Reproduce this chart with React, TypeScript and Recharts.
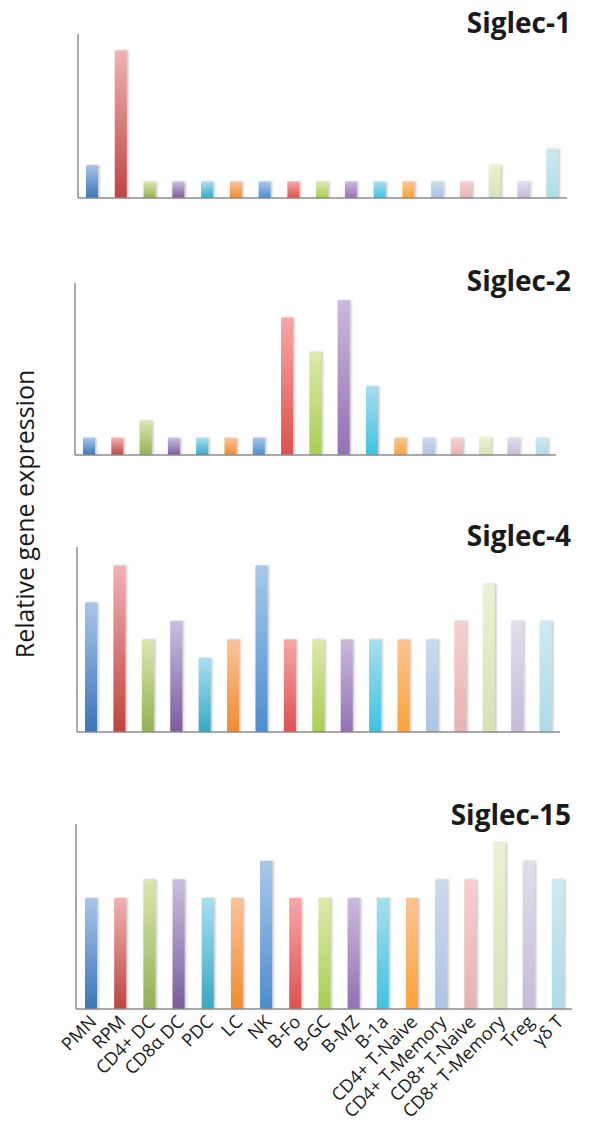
import React from "react";
import { BarChart, Bar, Cell, XAxis, YAxis } from "recharts";

const cells = [
  "PMN",
  "RPM",
  "CD4+ DC",
  "CD8α DC",
  "PDC",
  "LC",
  "NK",
  "B-Fo",
  "B-GC",
  "B-MZ",
  "B-1a",
  "CD4+ T-Naive",
  "CD4+ T-Memory",
  "CD8+ T-Naive",
  "CD8+ T-Memory",
  "Treg",
  "γδ T",
];

const siglec1 = [2, 9, 1, 1, 1, 1, 1, 1, 1, 1, 1, 1, 1, 1, 2, 1, 3];
const siglec2 = [1, 1, 2, 1, 1, 1, 1, 8, 6, 9, 4, 1, 1, 1, 1, 1, 1];
const siglec4 = [7, 9, 5, 6, 4, 5, 9, 5, 5, 5, 5, 5, 5, 6, 8, 6, 6];
const siglec15 = [6, 6, 7, 7, 6, 6, 8, 6, 6, 6, 6, 6, 7, 7, 9, 8, 7];

// bottom / top colour of each bar's gradient
const barBottom = [
  "#3a75b8", "#be4441", "#93b152", "#7a5c9e", "#37a8c3", "#ee8c2f",
  "#4a8dd0", "#de5050", "#a6cf50", "#9470b5", "#3ec3e0", "#fba23a",
  "#adc4e5", "#e5b3b2", "#d5e3b6", "#c7bbd9", "#acdce7",
];
const barTop = [
  "#a9c5ea", "#f2b2b1", "#d9e8ae", "#cdbde0", "#a8e0f3", "#fcc398",
  "#a8c8ea", "#f7a7a7", "#dceaa8", "#cbb9dd", "#a6dfef", "#fcc490",
  "#cadaee", "#f8cfcf", "#eaf3d2", "#e3ddec", "#cdeaf3",
];

const panels = [
  { id: "s1", title: "Siglec-1", values: siglec1, top: 34, bottom: 198, left: 78, right: 567, titleTop: 3 },
  { id: "s2", title: "Siglec-2", values: siglec2, top: 283, bottom: 455, left: 75, right: 556, titleTop: 261 },
  { id: "s4", title: "Siglec-4", values: siglec4, top: 547, bottom: 732, left: 77, right: 560, titleTop: 516 },
  { id: "s15", title: "Siglec-15", values: siglec15, top: 824, bottom: 1009, left: 76, right: 572, titleTop: 795 },
];

const axisColor = "#8c8c8c";

function CellTick(props: any) {
  const { x, y, payload } = props;
  const ax = x + 7;
  const ay = y + 12;
  return (
    <text
      x={ax}
      y={ay}
      transform={`rotate(-45 ${ax} ${ay})`}
      textAnchor="end"
      fontSize={18}
      fill="#1a1a1a"
    >
      {payload.value}
    </text>
  );
}

export default function App() {
  return (
    <div
      style={{
        position: "absolute",
        left: 0,
        top: 0,
        width: 593,
        height: 1128,
        background: "#fff",
        fontFamily: "'Open Sans', sans-serif",
      }}
    >
      <div
        style={{
          position: "absolute",
          left: 24 - 180,
          top: 514 - 17,
          width: 360,
          height: 34,
          lineHeight: "34px",
          textAlign: "center",
          fontSize: 25,
          color: "#1a1a1a",
          transform: "rotate(-90deg)",
        }}
      >
        Relative gene expression
      </div>

      {panels.map((p, pi) => {
        const last = pi === panels.length - 1;
        const data = cells.map((c, i) => ({ cell: c, v: p.values[i] }));
        const xHeight = last ? 119 : 2;
        const plotH = p.bottom - p.top;
        return (
          <React.Fragment key={p.id}>
            <div
              style={{
                position: "absolute",
                right: 593 - 571,
                top: p.titleTop,
                fontSize: 28,
                fontWeight: 700,
                color: "#1a1a1a",
                lineHeight: "38px",
              }}
            >
              {p.title}
            </div>
            <div style={{ position: "absolute", left: 0, top: p.top - 10 }}>
              <BarChart
                width={593}
                height={plotH + 10 + xHeight}
                data={data}
                margin={{ top: 10, left: p.left - 2, right: 593 - p.right, bottom: 0 }}
              >
                <defs>
                  <filter id={`${p.id}-shadow`} x="-30%" y="-10%" width="160%" height="120%">
                    <feDropShadow dx="1.5" dy="0" stdDeviation="1" floodColor="#777" floodOpacity="0.45" />
                  </filter>
                  {barBottom.map((c, i) => (
                    <linearGradient key={i} id={`${p.id}-g${i}`} x1="0" y1="1" x2="0" y2="0">
                      <stop offset="0%" stopColor={c} />
                      <stop offset="100%" stopColor={barTop[i]} />
                    </linearGradient>
                  ))}
                </defs>
                <XAxis
                  dataKey="cell"
                  interval={0}
                  height={xHeight}
                  tickLine={false}
                  tickSize={0}
                  tick={last ? <CellTick /> : false}
                  axisLine={{ stroke: axisColor, strokeWidth: 1.5 }}
                />
                <YAxis
                  domain={[0, 10]}
                  width={2}
                  tick={false}
                  tickLine={false}
                  axisLine={{ stroke: axisColor, strokeWidth: 1.5 }}
                />
                <Bar dataKey="v" barSize={12} isAnimationActive={false}>
                  {data.map((_, i) => (
                    <Cell key={i} fill={`url(#${p.id}-g${i})`} filter={`url(#${p.id}-shadow)`} />
                  ))}
                </Bar>
              </BarChart>
            </div>
          </React.Fragment>
        );
      })}
    </div>
  );
}
